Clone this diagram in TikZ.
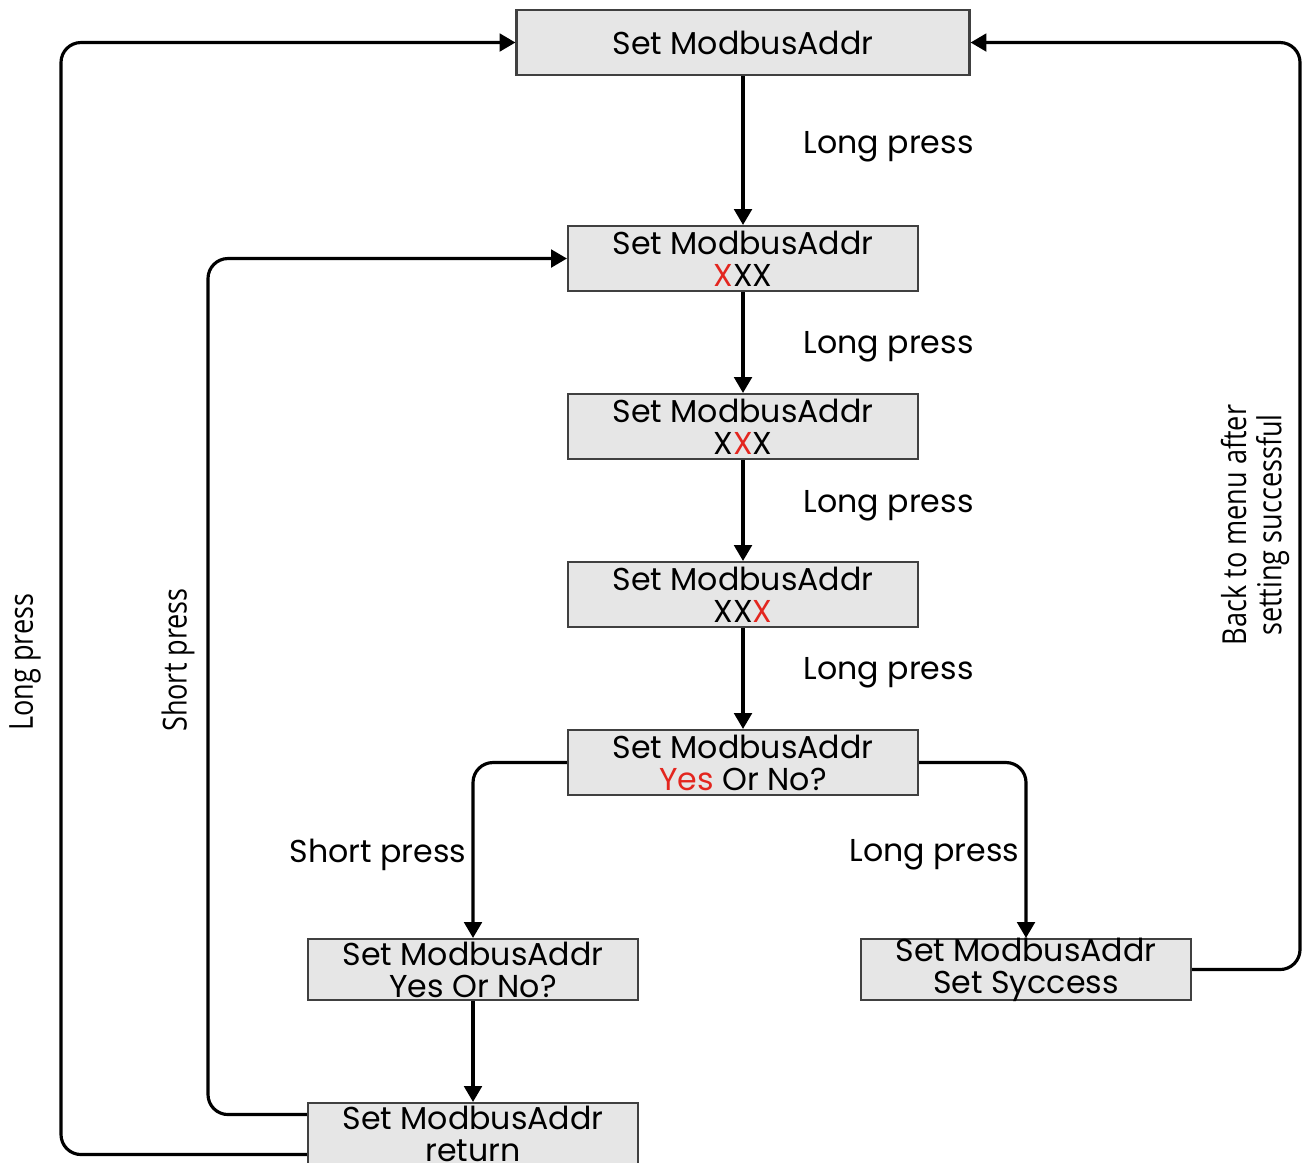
\documentclass[tikz,border=0pt]{standalone}
\usepackage{fontspec}
\setmainfont{Poppins}
\newfontfamily\narrowfont[FakeStretch=0.82]{Open Sans}
\usetikzlibrary{arrows.meta}
\definecolor{boxgray}{HTML}{E6E6E6}
\definecolor{keyred}{HTML}{E3261F}
\tikzset{
  menubox/.style={draw=black!75, fill=boxgray, line width=0.6pt,
    minimum width=3.5cm, minimum height=0.65cm, inner sep=0pt,
    align=center, font=\fontsize{9}{9.1}\selectfont},
  smallbox/.style={menubox, minimum width=3.3cm, minimum height=0.61cm,
    inner ysep=-1pt},
  flow/.style={line width=0.9pt, rounded corners=0.2cm,
    -{Triangle[length=4.5pt,width=5pt]}},
  lbl/.style={font=\fontsize{9}{11}\selectfont, inner sep=0pt},
  sidelbl/.style={font=\narrowfont\fontsize{9.4}{10}\selectfont,
    rotate=90, align=center, inner sep=0pt},
}
\begin{document}
\begin{tikzpicture}
\useasboundingbox (0,0) rectangle (13.09,-11.62);
\clip (0,0) rectangle (13.09,-11.62);
% boxes
\node[menubox, minimum width=4.53cm] (menu) at (7.43,-0.425) {Set ModbusAddr};
\node[menubox] (dig1) at (7.43,-2.585) {Set ModbusAddr\\\textcolor{keyred}{X}XX};
\node[menubox] (dig2) at (7.43,-4.265) {Set ModbusAddr\\X\textcolor{keyred}{X}X};
\node[menubox] (dig3) at (7.43,-5.945) {Set ModbusAddr\\XX\textcolor{keyred}{X}};
\node[menubox] (ask)  at (7.43,-7.625) {Set ModbusAddr\\\textcolor{keyred}{Yes} Or No?};
\node[smallbox] (askno) at (4.73,-9.695)  {Set ModbusAddr\\Yes Or No?};
\node[smallbox] (done)  at (10.26,-9.695) {Set ModbusAddr\\Set Syccess};
\node[smallbox] (ret)   at (4.73,-11.335) {Set ModbusAddr\\return};
% loop columns
\coordinate (farleft) at (0.61,0);
\coordinate (midleft) at (2.08,0);
\coordinate (right)   at (13.0,0);
\coordinate (retA) at ([yshift=1.9mm]ret.west);
\coordinate (retB) at ([yshift=-2.1mm]ret.west);
% main chain
\draw[flow] (menu) -- (dig1);
\draw[flow] (dig1) -- (dig2);
\draw[flow] (dig2) -- (dig3);
\draw[flow] (dig3) -- (ask);
\draw[flow] (ask.west) -| (askno.north);
\draw[flow] (ask.east) -| (done.north);
\draw[flow] (askno) -- (ret);
% way back
\draw[flow] (retA) -- (retA -| midleft) -- (dig1.west -| midleft) -- (dig1.west);
\draw[flow] (retB) -- (retB -| farleft) -- (menu.west -| farleft) -- (menu.west);
\draw[flow] (done.east) -- (done.east -| right) -- (menu.east -| right) -- (menu.east);
% labels
\node[lbl, anchor=west] (l1) at (8.03,-1.47) {Long press};
\node[lbl, anchor=west] (l2) at (8.03,-3.47) {Long press};
\node[lbl, anchor=west] (l3) at (8.03,-5.06) {Long press};
\node[lbl, anchor=west] (l4) at (8.03,-6.73) {Long press};
\node[lbl, anchor=east] (l5) at (4.67,-8.55) {Short press};
\node[lbl, anchor=east] (l6) at (10.20,-8.55) {Long press};
\node[sidelbl] (s1) at (0.25,-6.62) {Long press};
\node[sidelbl] (s2) at (1.78,-6.60) {Short press};
\node[sidelbl] (s3) at (12.55,-5.25) {Back to menu after\\setting successful};
\end{tikzpicture}
\end{document}
